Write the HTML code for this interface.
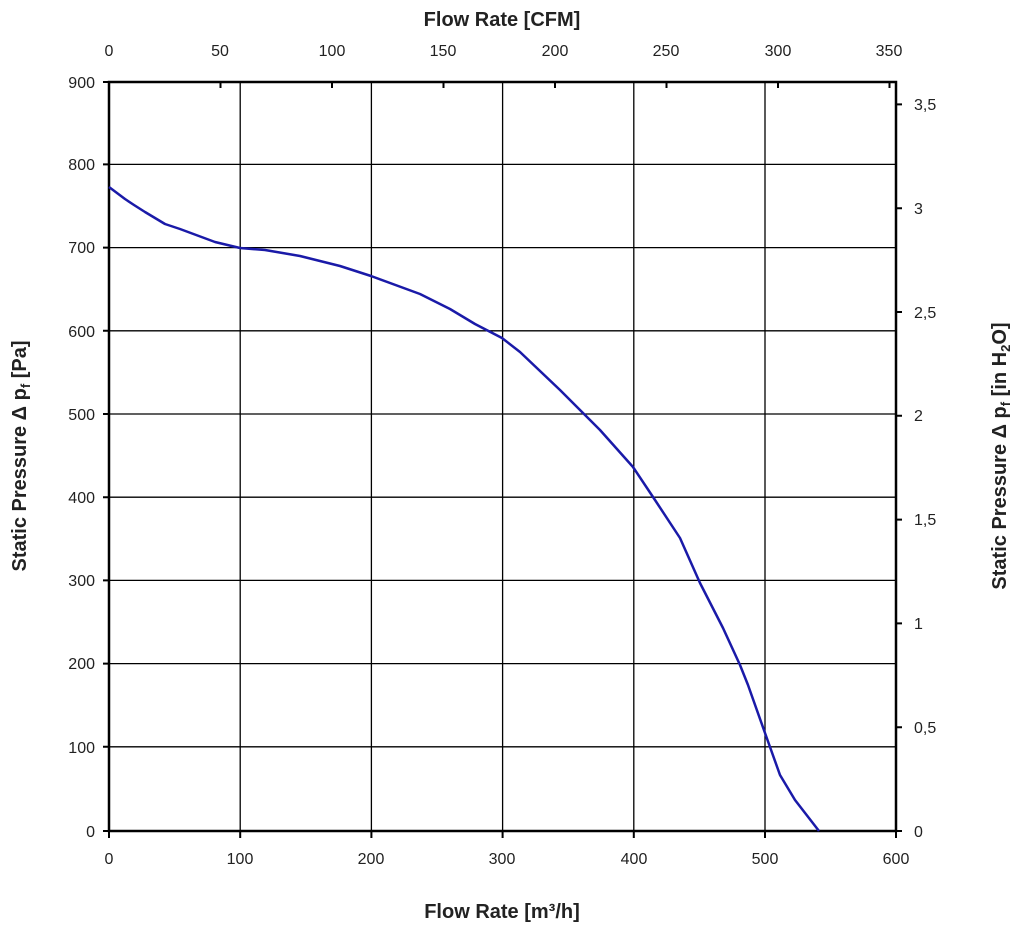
<!DOCTYPE html>
<html><head><meta charset="utf-8"><style>
body{margin:0;background:#fff}
svg{display:block}
text{font-family:"Liberation Sans",Arial,sans-serif;fill:#222}
.t{font-size:16px}
.b{font-size:20px;font-weight:bold}
</style></head><body>
<svg width="1024" height="932" viewBox="0 0 1024 932">
<g stroke="#000" stroke-width="1.3">
<line x1="240.2" y1="82" x2="240.2" y2="831"/><line x1="371.4" y1="82" x2="371.4" y2="831"/>
<line x1="502.6" y1="82" x2="502.6" y2="831"/><line x1="633.8" y1="82" x2="633.8" y2="831"/>
<line x1="765" y1="82" x2="765" y2="831"/>
<line x1="109" y1="164.4" x2="896" y2="164.4"/><line x1="109" y1="247.6" x2="896" y2="247.6"/>
<line x1="109" y1="330.8" x2="896" y2="330.8"/><line x1="109" y1="414" x2="896" y2="414"/>
<line x1="109" y1="497.2" x2="896" y2="497.2"/><line x1="109" y1="580.4" x2="896" y2="580.4"/>
<line x1="109" y1="663.6" x2="896" y2="663.6"/><line x1="109" y1="746.8" x2="896" y2="746.8"/>
</g>
<rect x="109" y="82" width="787" height="749" fill="none" stroke="#000" stroke-width="2.5"/>
<g stroke="#000" stroke-width="2">
<path d="M103 82h6M103 164.4h6M103 247.6h6M103 330.8h6M103 414h6M103 497.2h6M103 580.4h6M103 663.6h6M103 746.8h6M103 831h6"/>
<path d="M109 831v7M240.2 831v7M371.4 831v7M502.6 831v7M633.8 831v7M765 831v7M896 831v7"/>
<path d="M109 82v6M220.5 82v6M332 82v6M443.5 82v6M555 82v6M666.5 82v6M778 82v6M889.5 82v6"/>
<path d="M896 831h6M896 727.2h6M896 623.4h6M896 519.6h6M896 415.8h6M896 312h6M896 208.2h6M896 104.4h6"/>
</g>
<polyline fill="none" stroke="#1a1aa8" stroke-width="2.5" stroke-linejoin="round" points="109,187 125,199 134,205 145,212 165,224 180,229 215,242 240,248 265,250 300,256 340,266 371,276 420,294 450,309 475,324 502,338 520,352 560,390 600,430 633,467 655,500 680,538 700,583 723,628 740,665 748,685 765,733 780,775 795,800 819,831"/>
<g class="t" text-anchor="end">
<text x="95" y="88">900</text><text x="95" y="170">800</text><text x="95" y="253">700</text>
<text x="95" y="337">600</text><text x="95" y="420">500</text><text x="95" y="503">400</text>
<text x="95" y="586">300</text><text x="95" y="669">200</text><text x="95" y="753">100</text><text x="95" y="837">0</text>
</g>
<g class="t" text-anchor="middle">
<text x="109" y="864">0</text><text x="240" y="864">100</text><text x="371" y="864">200</text>
<text x="502" y="864">300</text><text x="634" y="864">400</text><text x="765" y="864">500</text><text x="896" y="864">600</text>
<text x="109" y="56">0</text><text x="220" y="56">50</text><text x="332" y="56">100</text><text x="443" y="56">150</text>
<text x="555" y="56">200</text><text x="666" y="56">250</text><text x="778" y="56">300</text><text x="889" y="56">350</text>
</g>
<g class="t">
<text x="914" y="837">0</text><text x="914" y="733">0,5</text><text x="914" y="629">1</text>
<text x="914" y="525">1,5</text><text x="914" y="421">2</text><text x="914" y="318">2,5</text>
<text x="914" y="214">3</text><text x="914" y="110">3,5</text>
</g>
<text class="b" x="502" y="918" text-anchor="middle">Flow Rate [m³/h]</text>
<text class="b" x="502" y="26" text-anchor="middle">Flow Rate [CFM]</text>
<text class="b" transform="translate(26,456) rotate(-90)" text-anchor="middle">Static Pressure Δ p<tspan font-size="13" dy="4">f</tspan><tspan dy="-4"> [Pa]</tspan></text>
<text class="b" transform="translate(1006,456) rotate(-90)" text-anchor="middle">Static Pressure Δ p<tspan font-size="13" dy="4">f</tspan><tspan dy="-4"> [in H</tspan><tspan font-size="13" dy="4">2</tspan><tspan dy="-4">O]</tspan></text>
</svg>
</body></html>
